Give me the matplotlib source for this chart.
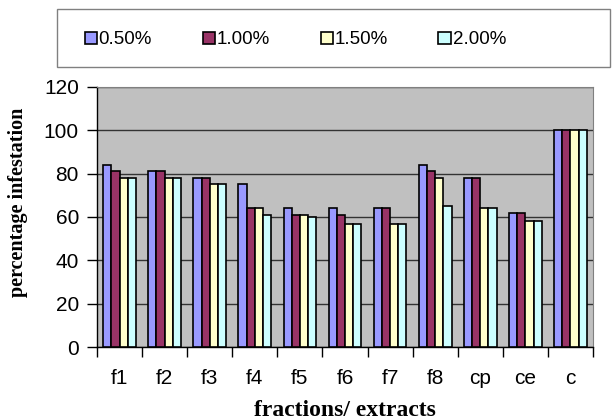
import matplotlib
matplotlib.use("Agg")
import matplotlib.pyplot as plt
import numpy as np
from matplotlib.patches import Rectangle

categories = ["f1", "f2", "f3", "f4", "f5", "f6", "f7", "f8", "cp", "ce", "c"]
series_names = ["0.50%", "1.00%", "1.50%", "2.00%"]
s050 = [84, 81, 78, 75, 64, 64, 64, 84, 78, 62, 100]
s100 = [81, 81, 78, 64, 61, 61, 64, 81, 78, 62, 100]
s150 = [78, 78, 75, 64, 61, 57, 57, 78, 64, 58, 100]
s200 = [78, 78, 75, 61, 60, 57, 57, 65, 64, 58, 100]
yticks = [0, 20, 40, 60, 80, 100, 120]

colors = ["#9999FF", "#993366", "#FFFFCC", "#CCFFFF"]
series = [s050, s100, s150, s200]

W, H = 613, 419
fig = plt.figure(figsize=(W/100, H/100), dpi=100)
ax = fig.add_axes([97/W, 1-347/H, 496/W, 260/H])
ax.set_facecolor("#C0C0C0")

x = np.arange(len(categories))
bw = 1/5.5
handles = []
for i, (vals, c, name) in enumerate(zip(series, colors, series_names)):
    b = ax.bar(x + (i - 1.5)*bw, vals, width=bw, color=c, edgecolor="black",
               linewidth=1.2, label=name, zorder=3)
    handles.append(b)

ax.set_xlim(-0.5, len(categories)-0.5)
ax.set_ylim(0, 120)
ax.set_yticks(yticks)
ax.yaxis.grid(True, color="#333333", linewidth=1, zorder=1)
ax.set_axisbelow(True)

ax.set_xticks(x)
ax.set_xticklabels(categories, fontsize=15, family="Liberation Sans")
ax.tick_params(axis="x", length=0, pad=16)
ax.set_xticks(np.arange(len(categories)+1) - 0.5, minor=True)
ax.tick_params(axis="x", which="minor", length=7, width=1, color="black")
ax.tick_params(axis="y", length=7, width=1, labelsize=15, pad=6)
for lab in ax.get_yticklabels():
    lab.set_family("Liberation Sans")

for s in ["top", "right"]:
    ax.spines[s].set_color("#808080")
for s in ["left", "bottom"]:
    ax.spines[s].set_color("black")
    ax.spines[s].set_linewidth(1)

fig.text(18/W, 1-202.5/H, "percentage infestation", rotation=90, ha="center",
         va="center", fontsize=14.5, fontweight="bold", family="Liberation Serif")
fig.text(344.5/W, 1-410/H, "fractions/ extracts", ha="center", va="center",
         fontsize=17, fontweight="bold", family="Liberation Serif")

# legend box
fig.patches.append(Rectangle((57/W, 1-67/H), 553/W, 58/H, transform=fig.transFigure,
                             facecolor="white", edgecolor="#808080", linewidth=1))
leg = fig.legend(handles=handles, labels=series_names, loc="center left",
                 bbox_to_anchor=(77/W, 1-40/H), ncol=4, frameon=False,
                 prop={"family": "Liberation Sans", "size": 13.5},
                 handlelength=0.65, handleheight=0.65, handletextpad=0.1,
                 columnspacing=2.7, borderaxespad=0)

fig.savefig("out.png", dpi=100)
